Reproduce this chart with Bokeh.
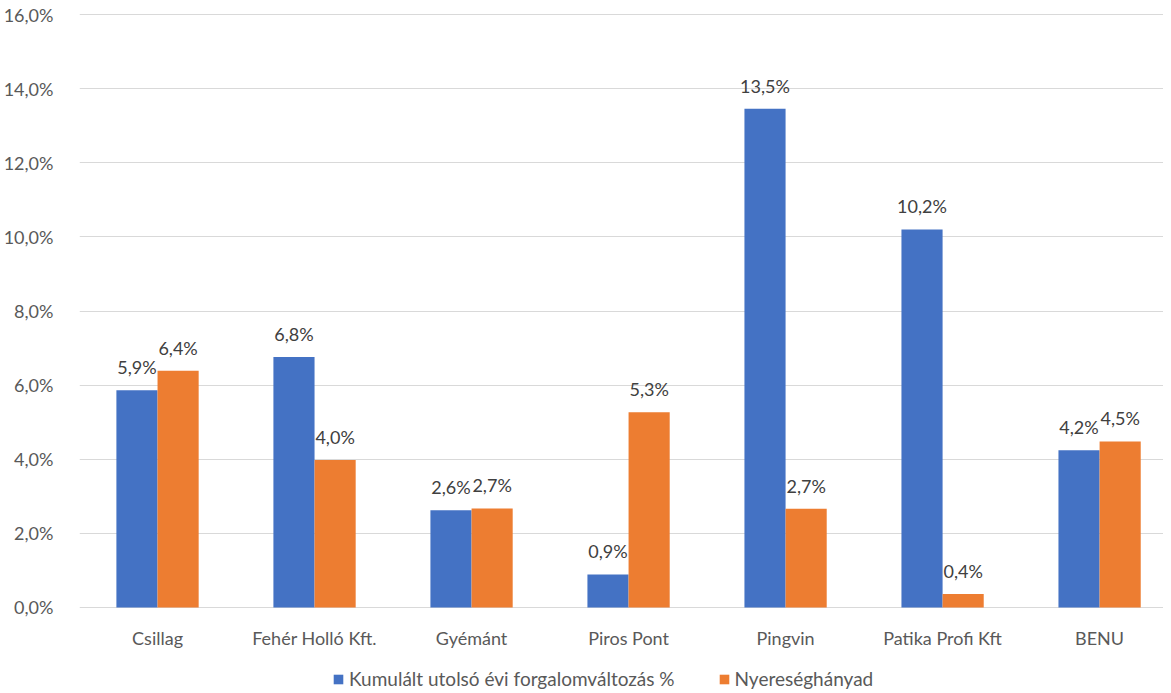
from bokeh.plotting import figure
from bokeh.layouts import column
from bokeh.models import ColumnDataSource, Range1d, FixedTicker, Legend, LegendItem
from bokeh.transform import dodge
from bokeh.embed import file_html
from bokeh.resources import INLINE
from bokeh.core.properties import value

categories = ["Csillag", "Fehér Holló Kft.", "Gyémánt", "Piros Pont", "Pingvin", "Patika Profi Kft", "BENU"]
forgalom = [5.86, 6.76, 2.62, 0.89, 13.46, 10.2, 4.24]
nyereseg = [6.39, 3.98, 2.67, 5.27, 2.66, 0.36, 4.48]
series_names = ["Kumulált utolsó évi forgalomváltozás %", "Nyereséghányad"]
y_ticks = [0, 2, 4, 6, 8, 10, 12, 14, 16]
y_tick_labels = ["0,0%", "2,0%", "4,0%", "6,0%", "8,0%", "10,0%", "12,0%", "14,0%", "16,0%"]

BLUE = "#4472C4"
ORANGE = "#ED7D31"
TXT = "#595959"
FONT = "Lato"
FS = "18px"

def fmt(v):
    return f"{v:.1f}".replace(".", ",") + "%"

src = ColumnDataSource(dict(
    x=list(range(len(categories))),
    cat=categories,
    f=forgalom, n=nyereseg,
    fl=[fmt(v) for v in forgalom],
    nl=[fmt(v) for v in nyereseg],
))

W = 1163
LB, TB, FH, BB = 79, 13, 595, 12
xr = Range1d(-0.497, 6.407)
p = figure(width=W, height=TB + FH + BB, output_backend="svg", toolbar_location=None,
           x_range=xr, y_range=Range1d(-0.03, 16.03),
           min_border_left=LB, min_border_right=0, min_border_top=TB, min_border_bottom=BB)
p.outline_line_color = None
p.xgrid.grid_line_color = None
p.ygrid.grid_line_color = "#D9D9D9"
p.ygrid.grid_line_width = 1
p.background_fill_color = "white"
p.border_fill_color = "white"
p.xaxis.visible = False

bw = 0.262
r1 = p.vbar(x=dodge("x", -bw / 2, range=xr), top="f", width=bw, source=src,
            fill_color=BLUE, line_color=None)
r2 = p.vbar(x=dodge("x", bw / 2, range=xr), top="n", width=bw, source=src,
            fill_color=ORANGE, line_color=None)

for col, lab, off in (("f", "fl", -bw / 2), ("n", "nl", bw / 2)):
    p.text(x=dodge("x", off, range=xr), y=col, text=lab, source=src,
           text_align="center", text_baseline="bottom", y_offset=-12,
           text_font=value(FONT), text_font_size=FS, text_color="#404040")

p.yaxis.ticker = FixedTicker(ticks=y_ticks)
p.yaxis.major_label_overrides = {t: l for t, l in zip(y_ticks, y_tick_labels)}
p.yaxis.axis_line_color = None
p.yaxis.major_tick_line_color = None
p.yaxis.minor_tick_line_color = None
p.yaxis.major_label_text_font = FONT
p.yaxis.major_label_text_font_size = FS
p.yaxis.major_label_text_color = TXT
p.yaxis.major_label_standoff = 20

# strip below the chart: category labels (same x scale) and legend
SH = 70
lg = figure(width=W, height=SH, output_backend="svg", toolbar_location=None,
            x_range=xr, y_range=Range1d(0, SH),
            min_border_left=LB, min_border_right=0, min_border_top=0, min_border_bottom=0)
lg.axis.visible = False
lg.grid.visible = False
lg.outline_line_color = None
lg.background_fill_color = "white"
lg.border_fill_color = "white"
lg.text(x="x", y=SH - 17, text="cat", source=src, text_align="center", text_baseline="middle",
        text_font=value(FONT), text_font_size=FS, text_color=TXT)
lr1 = lg.vbar(x=[20], top=[1], width=0.1, fill_color=BLUE, line_color=None)
lr2 = lg.vbar(x=[20], top=[1], width=0.1, fill_color=ORANGE, line_color=None)
legend = Legend(items=[LegendItem(label=series_names[0], renderers=[lr1]),
                       LegendItem(label=series_names[1], renderers=[lr2])],
                orientation="horizontal", location=(253, 0),
                glyph_width=12, glyph_height=12, label_standoff=5, spacing=43,
                padding=0, margin=0, border_line_color=None, background_fill_alpha=0,
                label_text_font=FONT, label_text_font_size="19px", label_text_color=TXT)
lg.add_layout(legend, "center")

open("out.html", "w").write(file_html(column(p, lg, spacing=0), INLINE))
